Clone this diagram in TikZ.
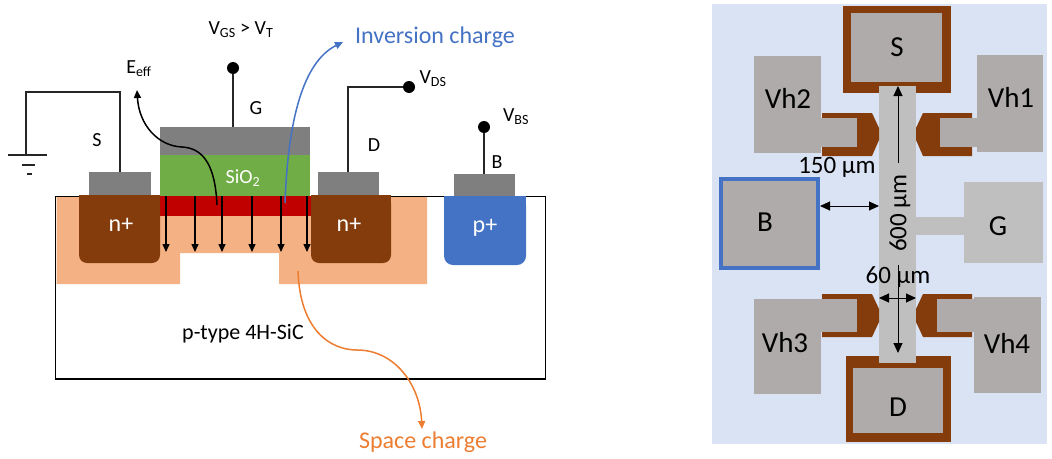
\documentclass[tikz,border=0pt]{standalone}
\usepackage{fontspec}
\setmainfont{Carlito}
\usetikzlibrary{arrows.meta}
\definecolor{metalgrey}{HTML}{7F7F7F}
\definecolor{oxide}{HTML}{70AD47}
\definecolor{invred}{HTML}{C00000}
\definecolor{depl}{HTML}{F4B183}
\definecolor{nbrown}{HTML}{843C0C}
\definecolor{pblue}{HTML}{4472C4}
\definecolor{orangeline}{HTML}{ED7D31}
\definecolor{chipbg}{HTML}{DAE3F3}
\definecolor{padgrey}{HTML}{AFABAB}
\definecolor{stripgrey}{HTML}{BFBFBF}
\newcommand{\fs}[1]{\fontsize{#1}{#1}\selectfont}
\begin{document}
\begin{tikzpicture}[x=1pt,y=-1pt,
  wire/.style={line width=1.3pt, draw=black!85},
  dot/.style={circle, fill=black, inner sep=0pt, minimum size=12pt},
  lbl/.style={inner sep=0pt, font=\fs{20}},
  biglbl/.style={inner sep=0pt, font=\fs{24}},
  padlbl/.style={inner sep=0pt, font=\fs{29}},
  dimlbl/.style={inner sep=0pt, font=\fs{25}},
  field/.style={line width=1.4pt, -{Triangle[length=8pt,width=7pt]}},
  dimarrow/.style={line width=1pt, {Triangle[length=10pt,width=9pt]}-{Triangle[length=10pt,width=9pt]}},
  onearrow/.style={line width=1pt, -{Triangle[length=10pt,width=9pt]}}]
\useasboundingbox (0,0) rectangle (1052,458);

% ---------------- MOSFET cross-section ----------------
% p-type substrate
\draw[line width=1.5pt, fill=white] (55.5,196.5) rectangle (545.5,379);
% space-charge (depletion) region
\fill[depl] (56.5,197) -- (427,197) -- (427,284) -- (279,284) -- (279,253)
  -- (180,253) -- (180,284) -- (56.5,284) -- cycle;
% inversion layer
\fill[invred] (160,196) rectangle (312,216);
% n+ source and drain wells
\fill[nbrown, rounded corners=8pt] (79,195) rectangle (160,263);
\fill[nbrown] (79,195) rectangle (160,240);
\fill[nbrown, rounded corners=8pt] (311,195) rectangle (391,263);
\fill[nbrown] (311,195) rectangle (391,240);
% p+ body contact well
\fill[pblue, rounded corners=9pt] (444,196) rectangle (526,265);
\fill[pblue] (444,196) rectangle (526,240);
% gate stack
\fill[oxide] (160,155) rectangle (310,196);
\fill[metalgrey] (160,127) rectangle (310,155);
% metal contacts
\fill[metalgrey] (89,172) rectangle (151,195);
\fill[metalgrey] (318,172) rectangle (379,195);
\fill[metalgrey] (454,174) rectangle (515,196);

% terminal points
\coordinate (sTop) at (120,172);
\coordinate (dTop) at (348,172);
\coordinate (bTop) at (484,174);
\coordinate (gTop) at (233,127);
\coordinate (gnd) at (26,155);
\node[dot] (gDot) at (233,68) {};
\node[dot] (dDot) at (409,87) {};
\node[dot] (bDot) at (484,127) {};

% wiring
\draw[wire] (sTop) -- (120,92) -- (26,92) -- (gnd);
\draw[wire] (8,155) -- (47,155);
\draw[wire] (22,165) -- (35,165);
\draw[wire] (27,174) -- (32,174);
\draw[wire] (gTop) -- (gDot);
\draw[wire] (dTop) -- (348,87) -- (dDot);
\draw[wire] (bTop) -- (bDot);

% field lines into the substrate
\foreach \x/\n in {166/f1,195/f2,222/f3,252/f4,281/f5,307/f6}{
  \coordinate (\n a) at (\x,196);
  \coordinate (\n b) at (\x,252);
  \draw[field] (\n a) -- (\n b);
}

% labels of the cross-section
\node[lbl] (vgs) at (241,30) {V\textsubscript{GS} > V\textsubscript{T}};
\node[lbl] (eeff) at (139,69) {E\textsubscript{eff}};
\node[lbl] (sl) at (97,140) {S};
\node[lbl] (gl) at (256,108) {G};
\node[lbl] (dl) at (374,145) {D};
\node[lbl] (bl) at (497,162) {B};
\node[lbl] (vds) at (433,79) {V\textsubscript{DS}};
\node[lbl] (vbs) at (516,117) {V\textsubscript{BS}};
\node[lbl, text=white] (sio) at (243,178) {SiO\textsubscript{2}};
\node[biglbl, text=white] (nl) at (121,225) {n+};
\node[biglbl, text=white] (nr) at (349,225) {n+};
\node[biglbl, text=white] (pp) at (485,228) {p+};
\node[inner sep=0pt, font=\fs{22}] (ptype) at (243,334) {p-type 4H-SiC};
\node[biglbl, text=pblue] (inv) at (435,37) {Inversion charge};
\node[biglbl, text=orangeline] (spc) at (423,442) {Space charge};

% annotation arrows
\coordinate (eStart) at (217,205);
\coordinate (eEnd) at (137,90);
\draw[line width=1.5pt, -{Triangle[length=8pt,width=7pt]}] (eStart)
  .. controls (215,160) and (200,148) .. (182,147)
  .. controls (158,146) and (139,125) .. (eEnd);
\coordinate (iStart) at (285,203);
\coordinate (iEnd) at (343,42);
\draw[pblue, line width=1.5pt, -{Triangle[length=8pt,width=7pt]}] (iStart)
  .. controls (288,120) and (303,62) .. (iEnd);
\coordinate (qStart) at (298,271);
\coordinate (qEnd) at (422,429);
\draw[orangeline, line width=1.5pt, -{Triangle[length=8pt,width=7pt]}] (qStart)
  .. controls (300,330) and (330,350) .. (357,350)
  .. controls (395,350) and (420,385) .. (qEnd);

% ---------------- Hall-bar test structure (top view) ----------------
\fill[chipbg] (712,4) rectangle (1047,444);
% source and drain pads
\fill[nbrown] (843,6) rectangle (951,93);
\fill[padgrey] (851,13) rectangle (942,82);
\fill[nbrown] (846,356) rectangle (951,442);
\fill[padgrey] (853,368) rectangle (943,433);
% channel strip and gate pad
\fill[stripgrey] (879,86) rectangle (916,363);
\fill[stripgrey] (916,217) rectangle (964,235);
\fill[stripgrey] (964,182) rectangle (1043,263);
% body pad
\draw[pblue, line width=4pt, fill=padgrey] (721,179) rectangle (818,268);
% Hall probes: brown tabs, grey arms and pads
\fill[nbrown] (822,113) -- (872,113) -- (879,128) -- (879,140) -- (872,156) -- (822,156) -- cycle;
\fill[padgrey] (754,56) rectangle (821,153);
\fill[padgrey] (820,118) rectangle (857,147);
\fill[nbrown] (972,113) -- (923,113) -- (916,128) -- (916,140) -- (923,156) -- (972,156) -- cycle;
\fill[padgrey] (977,55) rectangle (1043,152);
\fill[padgrey] (940,118) rectangle (978,147);
\fill[nbrown] (822,294) -- (872,294) -- (879,309) -- (879,322) -- (872,337) -- (822,337) -- cycle;
\fill[padgrey] (754,299) rectangle (821,394);
\fill[padgrey] (820,299) rectangle (857,332);
\fill[nbrown] (972,294) -- (923,294) -- (916,309) -- (916,322) -- (923,337) -- (972,337) -- cycle;
\fill[padgrey] (974,297) rectangle (1041,393);
\fill[padgrey] (937,299) rectangle (975,332);

% pad labels
\node[padlbl] (hs) at (897,47) {S};
\node[padlbl] (hd) at (898,407) {D};
\node[padlbl] (hb) at (765,222) {B};
\node[padlbl] (hg) at (998,226) {G};
\node[padlbl] (h2) at (788,98) {Vh2};
\node[padlbl] (h1) at (1011,97) {Vh1};
\node[padlbl] (h3) at (785,343) {Vh3};
\node[padlbl] (h4) at (1007,343) {Vh4};

% dimensions
\coordinate (wB) at (820,206);
\coordinate (wC) at (879,206);
\draw[dimarrow] (wB) -- (wC);
\node[dimlbl] (d150) at (837,167) {150 µm};
\coordinate (lTop) at (898,86);
\coordinate (lUp) at (898,163);
\coordinate (lDown) at (898,265);
\coordinate (lBot) at (898,353);
\draw[onearrow] (lUp) -- (lTop);
\draw[onearrow] (lDown) -- (lBot);
\node[dimlbl, rotate=90] (d600) at (900,213) {600 µm};
\node[dimlbl] (d60) at (898,277) {60 µm};
\coordinate (cL) at (879,298);
\coordinate (cR) at (916,298);
\draw[dimarrow] (cL) -- (cR);
\end{tikzpicture}
\end{document}
